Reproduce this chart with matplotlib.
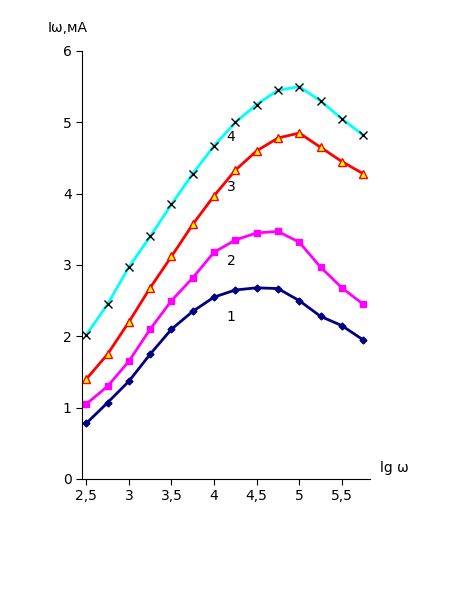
import matplotlib
matplotlib.use("Agg")
import matplotlib.pyplot as plt

lgw = [2.5, 2.75, 3.0, 3.25, 3.5, 3.75, 4.0, 4.25, 4.5, 4.75, 5.0, 5.25, 5.5, 5.75]
c1 = [0.78, 1.07, 1.37, 1.75, 2.1, 2.35, 2.55, 2.65, 2.68, 2.67, 2.5, 2.28, 2.15, 1.95]
c2 = [1.05, 1.3, 1.65, 2.1, 2.5, 2.82, 3.18, 3.35, 3.45, 3.47, 3.32, 2.97, 2.68, 2.45]
c3 = [1.4, 1.75, 2.2, 2.68, 3.12, 3.57, 3.97, 4.33, 4.6, 4.78, 4.85, 4.65, 4.45, 4.28]
c4 = [2.02, 2.45, 2.97, 3.4, 3.85, 4.28, 4.67, 5.0, 5.25, 5.45, 5.5, 5.3, 5.05, 4.82]
xticks = [2.5, 3, 3.5, 4, 4.5, 5, 5.5]
xlabels = ["2,5", "3", "3,5", "4", "4,5", "5", "5,5"]
yticks = [0, 1, 2, 3, 4, 5, 6]

fig = plt.figure(figsize=(4.57, 5.89), dpi=100)
ax = fig.add_axes([82/457, 1-479/589, (370-82)/457, (479-51)/589])
ax.plot(lgw, c1, color="#000080", lw=2, marker="D", ms=3.5)
ax.plot(lgw, c2, color="#FF00FF", lw=2, marker="s", ms=4.5)
ax.plot(lgw, c3, color="#FF0000", lw=2, marker="^", ms=6, mfc="#FFFF00", mec="#FF0000")
ax.plot(lgw, c4, color="#00FFFF", lw=2, marker="x", ms=6, mec="black", mew=1)
for lbl, y in [("1", 2.27), ("2", 3.05), ("3", 4.1), ("4", 4.8)]:
    ax.text(4.2, y, lbl, fontsize=10, ha="center", va="center")
ax.set_xlim(2.45, 5.83)
ax.set_ylim(0, 6)
ax.set_xticks(xticks)
ax.set_xticklabels(xlabels)
ax.set_yticks(yticks)
ax.tick_params(labelsize=10, direction="out", length=4)
for s in ["top", "right"]:
    ax.spines[s].set_visible(False)
ax.spines["left"].set_position(("data", 2.45))
fig.text(48/457, 1-28/589, "Iω,мА", fontsize=10, ha="left", va="center")
fig.text(380/457, 1-468/589, "lg ω", fontsize=10, ha="left", va="center")
fig.savefig("out.png", dpi=100)
